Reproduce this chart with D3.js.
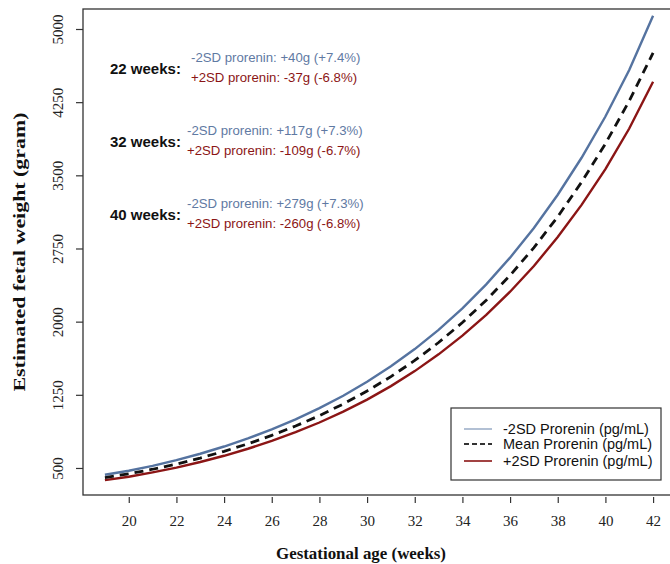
<!DOCTYPE html>
<html lang="en">
<head>
<meta charset="UTF-8">
<title>Estimated fetal weight</title>
<script src="https://d3js.org/d3.v7.min.js"></script>
<style>
body { margin: 0; background: #fff; }
.tick-label { font-family: "Liberation Serif", "Times New Roman", serif; font-size: 15px; fill: #222; }
.axis-title { font-family: "Liberation Serif", "Times New Roman", serif; font-size: 17px; font-weight: bold; fill: #111; }
.note { font-family: "Liberation Sans", Arial, sans-serif; }
</style>
</head>
<body>
<svg width="670" height="564"></svg>
<script>
// gestational weeks
const weeks = [19, 20, 21, 22, 23, 24, 25, 26, 27, 28, 29, 30, 31, 32, 33, 34, 35, 36, 37, 38, 39, 40, 41, 42];
// estimated fetal weight (gram)
const lowSD  = [430, 472, 522, 580, 646, 720, 803, 895, 998, 1113, 1241, 1383, 1542, 1719, 1916, 2136, 2382, 2656, 2961, 3301, 3680, 4103, 4580, 5135];
const meanSD = [402, 440, 487, 540, 602, 671, 748, 834, 930, 1037, 1156, 1289, 1437, 1602, 1786, 1991, 2220, 2475, 2759, 3076, 3430, 3824, 4263, 4755];
const highSD = [375, 410, 455, 503, 561, 625, 697, 777, 867, 966, 1077, 1201, 1339, 1493, 1665, 1856, 2069, 2307, 2571, 2867, 3197, 3564, 3980, 4460];

const xTicks = [20, 22, 24, 26, 28, 30, 32, 34, 36, 38, 40, 42];
const yTicks = [500, 1250, 2000, 2750, 3500, 4250, 5000];

const noteWeeks = ["22 weeks:", "32 weeks:", "40 weeks:"];
const noteLow  = ["-2SD prorenin: +40g (+7.4%)", "-2SD prorenin: +117g (+7.3%)", "-2SD prorenin: +279g (+7.3%)"];
const noteHigh = ["+2SD prorenin: -37g (-6.8%)", "+2SD prorenin: -109g (-6.7%)", "+2SD prorenin: -260g (-6.8%)"];

const legendLabels = ["-2SD Prorenin (pg/mL)", "Mean Prorenin (pg/mL)", "+2SD Prorenin (pg/mL)"];

const blue = "#5573a0", black = "#111", red = "#8b1515";

const svg = d3.select("svg");
const box = {left: 83, top: 9, right: 675, bottom: 495};

const x = d3.scaleLinear().domain([18.08, 42.92]).range([box.left, box.right]);
const y = d3.scaleLinear().domain([223, 5205]).range([box.bottom, box.top]);

// plot frame
svg.append("rect")
    .attr("x", box.left).attr("y", box.top)
    .attr("width", box.right - box.left).attr("height", box.bottom - box.top)
    .attr("fill", "none").attr("stroke", "#333").attr("stroke-width", 1.3);

// x axis (ticks only, set off from the frame)
const xAxis = svg.append("g")
    .attr("transform", `translate(0,${box.bottom + 2})`)
    .call(d3.axisBottom(x).tickValues(xTicks).tickSize(6).tickPadding(12));
xAxis.select(".domain").remove();
xAxis.selectAll("line").attr("stroke", "#333").attr("stroke-width", 1.2);
xAxis.selectAll("text").attr("class", "tick-label").attr("font-size", null).attr("font-family", null);

// y axis
const yAxis = svg.append("g")
    .attr("transform", `translate(${box.left},0)`)
    .call(d3.axisLeft(y).tickValues(yTicks).tickSize(7).tickFormat(d3.format("d")));
yAxis.select(".domain").remove();
yAxis.selectAll("line").attr("stroke", "#333").attr("stroke-width", 1.2);
yAxis.selectAll("text")
    .attr("class", "tick-label").attr("font-size", null).attr("font-family", null)
    .attr("x", null).attr("dy", null)
    .attr("text-anchor", "middle")
    .attr("transform", "translate(-25,0) rotate(-90)")
    .attr("dominant-baseline", "central");

// axis titles
svg.append("text").attr("class", "axis-title")
    .attr("x", 361).attr("y", 559).attr("text-anchor", "middle")
    .attr("textLength", 170).attr("lengthAdjust", "spacingAndGlyphs")
    .text("Gestational age (weeks)");
svg.append("text").attr("class", "axis-title")
    .attr("transform", "translate(25,252) rotate(-90)")
    .attr("text-anchor", "middle").attr("font-size", 18)
    .attr("textLength", 279).attr("lengthAdjust", "spacingAndGlyphs")
    .text("Estimated fetal weight (gram)");

// curves
const line = vals => d3.line().x((d, i) => x(weeks[i])).y(d => y(d))(vals);
svg.append("path").attr("d", line(lowSD)).attr("fill", "none")
    .attr("stroke", blue).attr("stroke-width", 2.4);
svg.append("path").attr("d", line(highSD)).attr("fill", "none")
    .attr("stroke", red).attr("stroke-width", 2.4);
svg.append("path").attr("d", line(meanSD)).attr("fill", "none")
    .attr("stroke", black).attr("stroke-width", 2.8).attr("stroke-dasharray", "9,6");

// annotations
const noteY = [69, 142, 215];
const noteX = [191, 187, 187];
noteWeeks.forEach((t, i) => {
    svg.append("text").attr("class", "note")
        .attr("x", 110).attr("y", noteY[i] + 5)
        .attr("font-size", 15).attr("font-weight", "bold").attr("fill", "#111")
        .text(t);
    svg.append("text").attr("class", "note")
        .attr("x", noteX[i]).attr("y", noteY[i] - 7)
        .attr("font-size", 13.2).attr("fill", "#5f7aa3")
        .text(noteLow[i]);
    svg.append("text").attr("class", "note")
        .attr("x", noteX[i]).attr("y", noteY[i] + 13)
        .attr("font-size", 13.2).attr("fill", red)
        .text(noteHigh[i]);
});

// legend
const lg = svg.append("g").attr("transform", "translate(451,408)");
lg.append("rect").attr("width", 210).attr("height", 72)
    .attr("fill", "#fff").attr("stroke", "#333").attr("stroke-width", 1.2);
const legendStyle = [
    {color: "#7f96b8", width: 1.2, dash: null},
    {color: "#333", width: 2, dash: "5,3"},
    {color: red, width: 1.6, dash: null}
];
const legendRowY = [21, 36, 53];
legendLabels.forEach((t, i) => {
    lg.append("line")
        .attr("x1", 13).attr("x2", 41)
        .attr("y1", legendRowY[i]).attr("y2", legendRowY[i])
        .attr("stroke", legendStyle[i].color)
        .attr("stroke-width", legendStyle[i].width)
        .attr("stroke-dasharray", legendStyle[i].dash);
    lg.append("text").attr("class", "note")
        .attr("x", 52).attr("y", legendRowY[i] + 5)
        .attr("font-size", 14.5).attr("fill", "#111")
        .text(t);
});
</script>
</body>
</html>
